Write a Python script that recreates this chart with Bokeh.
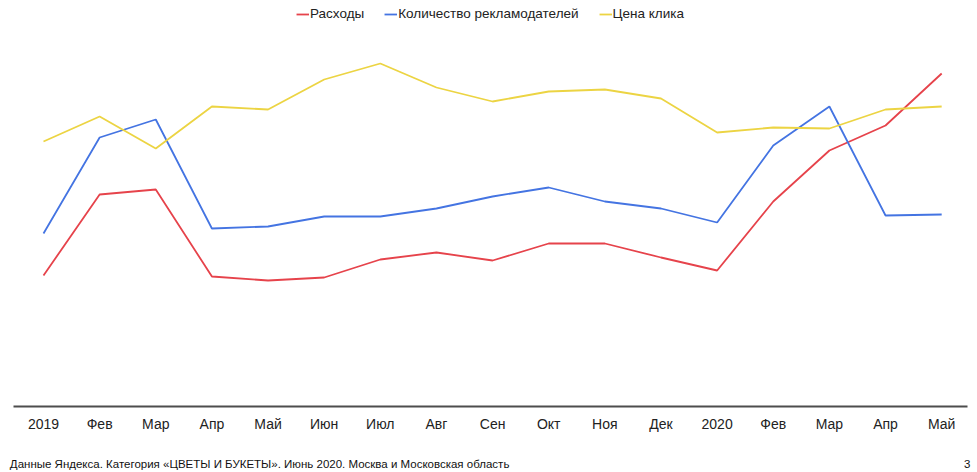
from bokeh.plotting import figure
from bokeh.models import Range1d, FixedTicker, Legend, LegendItem, LinearAxis
from bokeh.embed import file_html
from bokeh.resources import INLINE

months = ["2019", "Фев", "Мар", "Апр", "Май", "Июн", "Июл", "Авг", "Сен",
          "Окт", "Ноя", "Дек", "2020", "Фев", "Мар", "Апр", "Май"]
rashody = [131, 212, 217, 130, 126, 129, 147, 154, 146, 163, 163, 149, 136, 205, 256, 281, 333]
reklamodateli = [173, 269, 287, 178, 180, 190, 190, 198, 210, 219, 205, 198, 184, 261, 300, 191, 192]
cena_klika = [265, 290, 258, 300, 297, 327, 343, 319, 305, 315, 317, 308, 274, 279, 278, 297, 300]
series_names = ["Расходы", "Количество рекламодателей", "Цена клика"]
footer_text = "Данные Яндекса. Категория «ЦВЕТЫ И БУКЕТЫ». Июнь 2020. Москва и Московская область"
page_num = "3"

FONT = "Liberation Sans"
xs = list(range(len(months)))

p = figure(width=977, height=472, output_backend="svg", toolbar_location=None,
           x_range=Range1d(-0.5345, 16.46), y_range=Range1d(0, 406),
           min_border_left=13, min_border_right=10, min_border_top=0, min_border_bottom=66)
p.outline_line_color = None
p.background_fill_color = "white"
p.border_fill_color = "white"
p.grid.visible = False
p.yaxis.visible = False

colors = ["#e6434b", "#4474e2", "#ecd443"]
renderers = []
for vals, c in zip([rashody, reklamodateli, cena_klika], colors):
    r = p.line(xs, vals, line_color=c, line_width=1.8)
    renderers.append(r)

xa = p.xaxis[0]
xa.ticker = FixedTicker(ticks=xs)
xa.major_label_overrides = {i: m for i, m in enumerate(months)}
xa.major_tick_line_color = None
xa.major_tick_out = 0
xa.major_tick_in = 0
xa.minor_tick_line_color = None
xa.axis_line_color = "#4d4d4d"
xa.axis_line_width = 2
xa.major_label_text_font = FONT
xa.major_label_text_font_size = "14px"
xa.major_label_text_color = "#222222"
xa.major_label_standoff = 9

# footer row (source note + page number) as a second, line-less axis
foot_ticks = [3.85, 16.455]
foot_axis = LinearAxis(ticker=FixedTicker(ticks=foot_ticks),
                       major_label_overrides={foot_ticks[0]: footer_text, foot_ticks[1]: page_num},
                       axis_line_color=None, major_tick_line_color=None,
                       minor_tick_line_color=None, major_tick_out=0, major_tick_in=0,
                       major_label_standoff=23, major_label_text_font=FONT,
                       major_label_text_font_size="11.5px", major_label_text_color="#111111")
p.add_layout(foot_axis, "below")

legend = Legend(items=[LegendItem(label=n, renderers=[r]) for n, r in zip(series_names, renderers)],
                orientation="horizontal", location="top_center",
                border_line_color=None, background_fill_alpha=0,
                glyph_width=13, glyph_height=14, label_standoff=1, spacing=20,
                padding=0, margin=6,
                label_text_font=FONT, label_text_font_size="13.5px",
                label_text_color="#222222")
p.add_layout(legend, "center")

open("out.html", "w").write(file_html(p, INLINE))
